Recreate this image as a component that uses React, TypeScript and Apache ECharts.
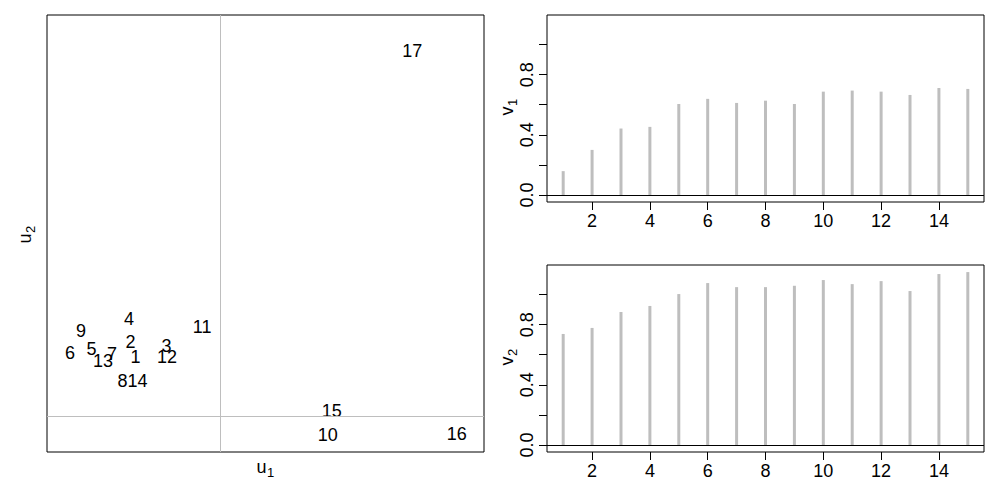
import React, { useEffect, useRef } from "react";
import * as echarts from "echarts";

const pointIds = ["1","2","3","4","5","6","7","8","9","10","11","12","13","14","15","16","17"];
const u1 = [-0.4225,-0.447,-0.268,-0.455,-0.642,-0.75,-0.54,-0.488,-0.695,0.539,-0.089,-0.265,-0.585,-0.413,0.559,1.184,0.961];
const u2 = [0.295,0.369,0.35,0.485,0.335,0.314,0.31,0.175,0.425,-0.097,0.447,0.294,0.277,0.175,0.025,-0.09,1.825];

const steps = [1,2,3,4,5,6,7,8,9,10,11,12,13,14,15];
const v1 = [0.159,0.300,0.442,0.453,0.605,0.639,0.612,0.627,0.605,0.687,0.694,0.687,0.665,0.711,0.705];
const v2 = [0.738,0.778,0.884,0.924,1.003,1.076,1.049,1.049,1.058,1.096,1.069,1.089,1.023,1.136,1.149];

const xTicks = [2,4,6,8,10,12,14];
const yTicks = [0,0.2,0.4,0.6,0.8,1.0];
const yLabels = [0,0.4,0.8];

const FONT = "Arial, 'Liberation Sans', sans-serif";
const FS = 18;

function axisTitle(main: string, sub: string, x: number, y: number, rotated: boolean) {
  return {
    type: "group",
    x, y,
    rotation: rotated ? Math.PI / 2 : 0,
    children: [
      { type: "text", x: 1.5, y: 0, style: { text: main, fontFamily: FONT, fontSize: FS, fill: "#000", align: "right", verticalAlign: "middle" } },
      { type: "text", x: 2, y: 5, style: { text: sub, fontFamily: FONT, fontSize: 13, fill: "#000", align: "left", verticalAlign: "middle" } },
    ],
  };
}

function rightX(gi: number) {
  return {
    type: "value", gridIndex: gi, min: 0.44, max: 15.56,
    axisLine: { show: false, onZero: false },
    splitLine: { show: false },
    axisTick: { show: true, length: 8, inside: false, customValues: xTicks, lineStyle: { color: "#000", width: 1 } },
    axisLabel: { show: true, customValues: xTicks, margin: 10, fontFamily: FONT, fontSize: FS, color: "#000" },
  };
}
function rightY(gi: number) {
  return {
    type: "value", gridIndex: gi, min: -0.046, max: 1.196,
    axisLine: { show: false, onZero: false },
    splitLine: { show: false },
    axisTick: { show: true, length: 8, inside: false, customValues: yTicks, lineStyle: { color: "#000", width: 1 } },
    axisLabel: { show: true, customValues: yLabels, rotate: 90, margin: 11, fontFamily: FONT, fontSize: FS, color: "#000", formatter: (v: number) => v.toFixed(1) },
  };
}

function stems(vals: number[], gi: number) {
  return {
    type: "bar", xAxisIndex: gi, yAxisIndex: gi, barWidth: 3,
    data: steps.map((s, i) => [s, vals[i]]),
    itemStyle: { color: "#BEBEBE" },
    markLine: {
      silent: true, symbol: ["none", "none"], label: { show: false },
      lineStyle: { color: "#000", width: 1, type: "solid" },
      data: [{ yAxis: 0 }],
    },
  };
}

export default function App() {
  const ref = useRef<HTMLDivElement>(null);
  useEffect(() => {
    if (!ref.current) return;
    const chart = echarts.init(ref.current, null, { renderer: "svg" });
    const gridStyle = { show: true, borderColor: "#000", borderWidth: 1, backgroundColor: "transparent", containLabel: false };
    chart.setOption({
      animation: false,
      backgroundColor: "#fff",
      textStyle: { fontFamily: FONT },
      grid: [
        { ...gridStyle, left: 47, top: 15, width: 437, height: 437 },
        { ...gridStyle, left: 547, top: 15, width: 437, height: 187 },
        { ...gridStyle, left: 547, top: 265, width: 437, height: 187 },
      ],
      xAxis: [
        { type: "value", gridIndex: 0, min: -0.865, max: 1.32, show: false },
        rightX(1), rightX(2),
      ],
      yAxis: [
        { type: "value", gridIndex: 0, min: -0.18, max: 2.005, show: false },
        rightY(1), rightY(2),
      ],
      series: [
        {
          type: "scatter", xAxisIndex: 0, yAxisIndex: 0, symbolSize: 0,
          itemStyle: { color: "#000", opacity: 0 },
          data: pointIds.map((id, i) => ({ value: [u1[i], u2[i]], name: id })),
          label: { show: true, position: "inside", formatter: (p: any) => p.name, fontFamily: FONT, fontSize: FS, color: "#000", opacity: 1, textBorderWidth: 0 },
          emphasis: { disabled: true },
          markLine: {
            silent: true, symbol: ["none", "none"], label: { show: false },
            lineStyle: { color: "#BEBEBE", width: 1, type: "solid" },
            data: [{ xAxis: 0 }, { yAxis: 0 }],
          },
        },
        stems(v1, 1),
        stems(v2, 2),
      ],
      graphic: [
        axisTitle("u", "1", 265, 467, false),
        axisTitle("u", "2", 25, 235, true),
        axisTitle("v", "1", 507, 108, true),
        axisTitle("v", "2", 507, 358, true),
      ],
    });
    return () => chart.dispose();
  }, []);
  return <div ref={ref} style={{ position: "absolute", left: 0, top: 0, width: 1000, height: 500 }} />;
}
